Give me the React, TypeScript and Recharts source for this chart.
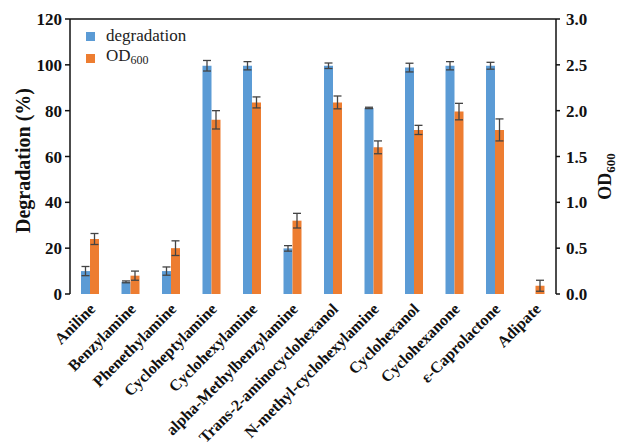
import { BarChart, Bar, XAxis, YAxis, ErrorBar, Legend } from "recharts";

const categories = [
  "Aniline",
  "Benzylamine",
  "Phenethylamine",
  "Cycloheptylamine",
  "Cyclohexylamine",
  "alpha-Methylbenzylamine",
  "Trans-2-aminocyclohexanol",
  "N-methyl-cyclohexylamine",
  "Cyclohexanol",
  "Cyclohexanone",
  "\u03b5-Caprolactone",
  "Adipate",
];
const degradation = [10, 5.3, 10, 99.6, 99.6, 19.9, 99.6, 81.2, 98.8, 99.6, 99.6, 0];
const degradationErr = [2, 0.4, 1.8, 2.3, 1.8, 1.2, 1.2, 0.3, 1.9, 1.8, 1.5, 0];
const od600 = [0.6, 0.2, 0.5, 1.9, 2.09, 0.8, 2.09, 1.6, 1.79, 1.99, 1.79, 0.09];
const od600Err = [0.06, 0.05, 0.08, 0.1, 0.06, 0.08, 0.07, 0.07, 0.05, 0.09, 0.12, 0.06];
const leftTicks = [0, 20, 40, 60, 80, 100, 120];
const rightTicks = [0, 0.5, 1, 1.5, 2, 2.5, 3];
const edgeTicks = [0, 1, 2, 3, 4, 5, 6, 7, 8, 9, 10, 11, 12];

const data = categories.map((name, i) => ({
  name,
  deg: degradation[i],
  degErr: degradationErr[i],
  od: od600[i],
  odErr: od600Err[i],
}));

const FONT = '"Liberation Serif", "Times New Roman", serif';
const BLUE = "#5B9BD5";
const ORANGE = "#ED7D31";
const INK = "#111";

const CategoryTick = (props: any) => {
  const { x, y, payload } = props;
  const ax = x + 6;
  const ay = y + 10;
  return (
    <text
      x={ax}
      y={ay}
      transform={`rotate(-45, ${ax}, ${ay})`}
      textAnchor="end"
      fontFamily={FONT}
      fontWeight="bold"
      fontSize={16}
      fill={INK}
    >
      {payload.value}
    </text>
  );
};

const renderLegend = (props: any) => {
  const { payload } = props;
  return (
    <div style={{ fontFamily: FONT, fontSize: 17, color: "#222", lineHeight: "20px" }}>
      {payload.map((entry: any) => (
        <div key={entry.value} style={{ display: "flex", alignItems: "center" }}>
          <span
            style={{
              display: "inline-block",
              width: 9,
              height: 9,
              background: entry.color,
              marginRight: 11,
            }}
          />
          {entry.value === "OD600" ? (
            <span>
              OD<sub style={{ fontSize: 12, verticalAlign: "-3px" }}>600</sub>
            </span>
          ) : (
            <span>{entry.value}</span>
          )}
        </div>
      ))}
    </div>
  );
};

const leftTitle = (p: any) => {
  const vb = p.viewBox;
  const cx = 23;
  const cy = vb.y + vb.height / 2 + 4;
  return (
    <text
      x={cx}
      y={cy}
      transform={`rotate(-90, ${cx}, ${cy})`}
      textAnchor="middle"
      dominantBaseline="central"
      fontFamily={FONT}
      fontWeight="bold"
      fontSize={20}
      fill={INK}
    >
      Degradation (%)
    </text>
  );
};

const rightTitle = (p: any) => {
  const vb = p.viewBox;
  const cx = vb.x + 55;
  const cy = vb.y + vb.height / 2 + 20;
  return (
    <text
      x={cx}
      y={cy}
      transform={`rotate(-90, ${cx}, ${cy})`}
      textAnchor="middle"
      fontFamily={FONT}
      fontWeight="bold"
      fontSize={18}
      fill={INK}
    >
      OD
      <tspan fontSize={13} dy={4}>600</tspan>
    </text>
  );
};

const axisTick = { fontFamily: FONT, fontWeight: "bold", fontSize: 17, fill: INK };
const line = { stroke: INK, strokeWidth: 1.5 };

export default function App() {
  return (
    <div style={{ position: "absolute", left: 0, top: 0, background: "#fff" }}>
      <BarChart
        width={620}
        height={445}
        data={data}
        margin={{ top: 18, right: 0, bottom: 0, left: 0 }}
        barGap={0}
        barSize={9}
      >
        <XAxis
          xAxisId="frame"
          orientation="top"
          dataKey="name"
          height={1}
          tick={false}
          tickLine={false}
          axisLine={{ stroke: "#111111", strokeWidth: 1.5 }}
        />
        <XAxis
          xAxisId="edge"
          type="number"
          domain={[0, 12]}
          ticks={edgeTicks}
          height={0}
          tickFormatter={() => ""}
          tickSize={4}
          tickLine={line}
          axisLine={line}
        />
        <XAxis
          xAxisId="cat"
          dataKey="name"
          interval={0}
          height={151}
          axisLine={false}
          tickLine={false}
          tickSize={0}
          tickMargin={6}
          tick={<CategoryTick />}
        />
        <YAxis
          yAxisId="left"
          width={70}
          domain={[0, 120]}
          ticks={leftTicks}
          tick={axisTick}
          tickSize={5}
          tickMargin={3}
          tickLine={line}
          axisLine={line}
          label={leftTitle}
        />
        <YAxis
          yAxisId="right"
          orientation="right"
          width={64}
          domain={[0, 3]}
          ticks={rightTicks}
          tickFormatter={(v: number) => v.toFixed(1)}
          tick={axisTick}
          tickSize={4}
          tickMargin={6}
          tickLine={line}
          axisLine={line}
          label={rightTitle}
        />
        <Legend
          layout="vertical"
          align="center"
          verticalAlign="middle"
          itemSorter="dataKey"
          wrapperStyle={{ left: 86, top: 26, width: "auto", height: "auto" }}
          content={renderLegend}
        />
        <Bar
          xAxisId="cat"
          yAxisId="left"
          dataKey="deg"
          name="degradation"
          fill={BLUE}
          isAnimationActive={false}
        >
          <ErrorBar dataKey="degErr" width={4} stroke="#444" strokeWidth={1.3} />
        </Bar>
        <Bar
          xAxisId="cat"
          yAxisId="right"
          dataKey="od"
          name="OD600"
          fill={ORANGE}
          isAnimationActive={false}
        >
          <ErrorBar dataKey="odErr" width={4} stroke="#444" strokeWidth={1.3} />
        </Bar>
      </BarChart>
    </div>
  );
}
